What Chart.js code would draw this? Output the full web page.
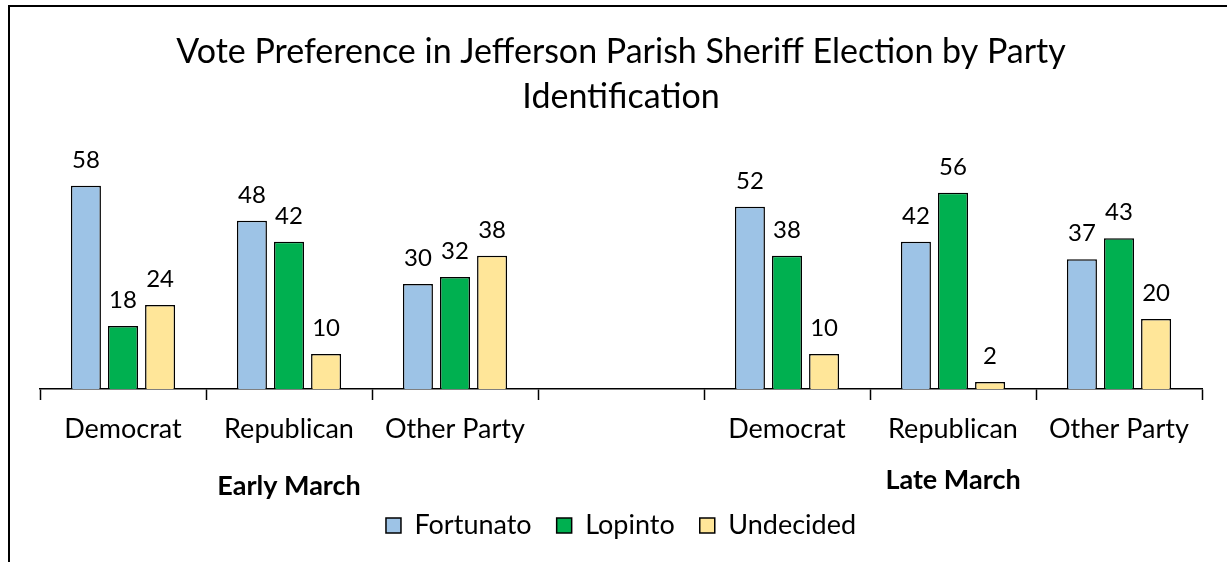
<!DOCTYPE html>
<html>
<head>
<meta charset="utf-8">
<script src="https://cdn.jsdelivr.net/npm/chart.js@4.4.1/dist/chart.umd.min.js"></script>
<style>
    html, body { margin: 0; padding: 0; background: #fff; }
    #wrap { position: relative; width: 1227px; height: 562px; }
    #frame { position: absolute; left: 8px; top: 5px; right: -5px; bottom: -5px; border-left: 2px solid #000; border-top: 2px solid #000; pointer-events: none; }
</style>
</head>
<body>
<div id="wrap">
    <canvas id="voteChart" width="1227" height="562"></canvas>
    <div id="frame"></div>
</div>
<script>
const categories = ['Democrat', 'Republican', 'Other Party', '', 'Democrat', 'Republican', 'Other Party'];
const periods = ['Early March', 'Late March'];
const fortunato = [58, 48, 30, null, 52, 42, 37];
const lopinto = [18, 42, 32, null, 38, 56, 43];
const undecided = [24, 10, 38, null, 10, 2, 20];

const fontFamily = 'Lato, "Open Sans", sans-serif';

// value labels above each bar
const barValues = {
    id: 'barValues',
    afterDatasetsDraw(chart) {
        const ctx = chart.ctx;
        ctx.save();
        ctx.font = '24px ' + fontFamily;
        ctx.fillStyle = '#000';
        ctx.textAlign = 'center';
        ctx.textBaseline = 'middle';
        chart.data.datasets.forEach((ds, i) => {
            chart.getDatasetMeta(i).data.forEach((bar, j) => {
                if (ds.data[j] == null) return;
                ctx.fillText(ds.data[j], bar.x, bar.y - 26);
            });
        });
        ctx.restore();
    }
};

// bold period names under the category labels
const periodLabels = {
    id: 'periodLabels',
    afterDraw(chart) {
        const x = chart.scales.x;
        const ctx = chart.ctx;
        ctx.save();
        ctx.font = 'bold 27px ' + fontFamily;
        ctx.fillStyle = '#000';
        ctx.textAlign = 'center';
        ctx.textBaseline = 'middle';
        const left = (x.getPixelForValue(0) + x.getPixelForValue(2)) / 2;
        const right = (x.getPixelForValue(4) + x.getPixelForValue(6)) / 2;
        ctx.fillText(periods[0], left, 486);
        ctx.fillText(periods[1], right, 480);
        ctx.restore();
    }
};

const ctx = document.getElementById('voteChart').getContext('2d');
const voteChart = new Chart(ctx, {
    type: 'bar',
    data: {
        labels: categories,
        datasets: [{
            label: 'Fortunato',
            data: fortunato,
            backgroundColor: '#9DC3E6',
            borderColor: '#000',
            borderWidth: 1.5
        }, {
            label: 'Lopinto',
            data: lopinto,
            backgroundColor: '#00B050',
            borderColor: '#000',
            borderWidth: 1.5
        }, {
            label: 'Undecided',
            data: undecided,
            backgroundColor: '#FFE699',
            borderColor: '#000',
            borderWidth: 1.5
        }]
    },
    options: {
        responsive: false,
        animation: false,
        categoryPercentage: 0.67,
        barPercentage: 0.81,
        layout: {
            padding: { left: 40, right: 25, top: 18, bottom: 13 }
        },
        scales: {
            x: {
                grid: {
                    offset: true,
                    drawOnChartArea: false,
                    color: '#000',
                    tickLength: 11,
                    tickWidth: 1.5
                },
                border: { color: '#000', width: 1.5 },
                ticks: {
                    color: '#000',
                    padding: 13,
                    font: { size: 27, family: fontFamily }
                },
                afterFit(scale) { scale.height = 98; }
            },
            y: {
                display: false,
                min: 0,
                max: 70
            }
        },
        plugins: {
            legend: {
                position: 'bottom',
                labels: {
                    color: '#000',
                    boxWidth: 15,
                    boxHeight: 15,
                    padding: 25,
                    font: { size: 27, family: fontFamily }
                }
            },
            title: {
                display: true,
                text: ['Vote Preference in Jefferson Parish Sheriff Election by Party', 'Identification'],
                color: '#000',
                font: { size: 34, weight: 'normal', family: fontFamily, lineHeight: 1.32 },
                padding: { top: 11.5, bottom: 24.5 }
            },
            tooltip: { enabled: false }
        }
    },
    plugins: [barValues, periodLabels]
});
</script>
</body>
</html>
